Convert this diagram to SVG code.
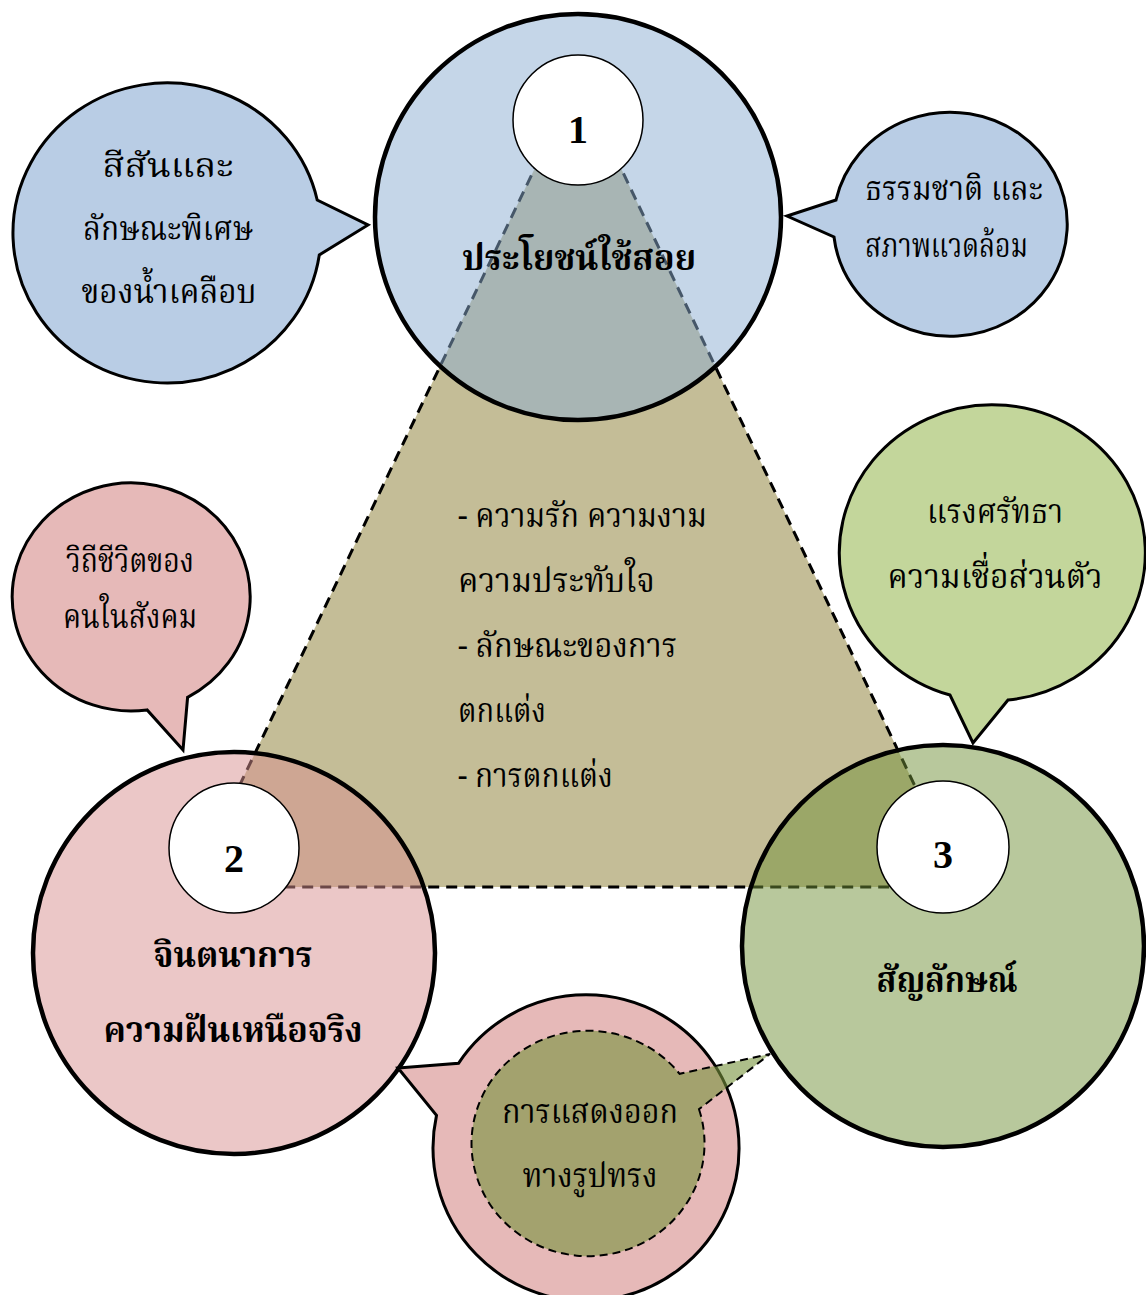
<svg xmlns="http://www.w3.org/2000/svg" width="1146" height="1295" viewBox="0 0 1146 1295">
<style>
.big{stroke:#000;stroke-width:4.5}
.bub{stroke:#000;stroke-width:3;stroke-linejoin:miter}
.num{fill:#fff;stroke:#000;stroke-width:1.5}
.th{font-family:"Noto Serif Thai","Noto Sans Thai","Tlwg Typo","Garuda","Loma","Liberation Serif",serif;font-size:34px;fill:#000}
.thb{font-family:"Noto Serif Thai","Noto Sans Thai","Tlwg Typo","Garuda","Loma","Liberation Serif",serif;font-size:36px;font-weight:bold;fill:#000}
.n{font-family:"Liberation Serif","Times New Roman",serif;font-size:40px;font-weight:bold;fill:#000;text-anchor:middle}
.c{text-anchor:middle}
</style>
<rect width="1146" height="1295" fill="#fff"/>
<g id="connectors">
<polygon points="578,78 191,887 963,887" fill="#c4bd97" stroke="#000" stroke-width="3" stroke-dasharray="11,7"/>
</g>
<g id="node-1">
<circle cx="578" cy="217" r="203" fill="#8cadd2" fill-opacity="0.5" class="big"/>
</g>
<g id="node-2">
<circle cx="234" cy="953" r="201" fill="#d78f8f" fill-opacity="0.5" class="big"/>
</g>
<g id="node-3">
<circle cx="943" cy="946" r="201" fill="#719139" fill-opacity="0.5" class="big"/>
</g>
<g id="bubble-glaze">
<path d="M 319.3 254.9 A 154 150 0 1 1 317.2 200 L 368 225 Z" fill="#b9cde5" class="bub"/>
<text class="th c" x="168" y="177" textLength="131" lengthAdjust="spacingAndGlyphs">สีสันและ</text>
<text class="th c" x="168" y="240" textLength="170" lengthAdjust="spacingAndGlyphs">ลักษณะพิเศษ</text>
<text class="th c" x="169" y="303" textLength="175" lengthAdjust="spacingAndGlyphs">ของน้ำเคลือบ</text>
</g>
<g id="bubble-nature">
<path d="M 836 200 A 117 112 0 1 1 834 237 L 787 216 Z" fill="#b9cde5" class="bub"/>
<text class="th" x="865" y="200" textLength="178" lengthAdjust="spacingAndGlyphs">ธรรมชาติ และ</text>
<text class="th" x="865" y="257" textLength="163" lengthAdjust="spacingAndGlyphs">สภาพแวดล้อม</text>
</g>
<g id="bubble-lifestyle">
<path d="M 147.1 709.9 A 119 114 0 1 1 187.6 697.3 L 183 750 Z" fill="#e6b9b8" class="bub"/>
<text class="th c" x="130" y="572" textLength="128" lengthAdjust="spacingAndGlyphs">วิถีชีวิตของ</text>
<text class="th c" x="130" y="628" textLength="134" lengthAdjust="spacingAndGlyphs">คนในสังคม</text>
</g>
<g id="bubble-faith">
<path d="M 950 695 A 153 148 0 1 1 1008 700 L 973 743 Z" fill="#c3d69b" class="bub"/>
<text class="th c" x="995" y="523" textLength="136" lengthAdjust="spacingAndGlyphs">แรงศรัทธา</text>
<text class="th c" x="995" y="588" textLength="215" lengthAdjust="spacingAndGlyphs">ความเชื่อส่วนตัว</text>
</g>
<g id="bubble-form">
<path d="M 458.5 1063.3 A 153 153 0 1 1 436.5 1115.4 L 398 1068 Z" fill="#e6b9b8" class="bub"/>
<path d="M 699 1109.2 A 116.5 112.7 0 1 1 679.6 1073.8 L 770 1054 Z" fill="#76923c" fill-opacity="0.6" stroke="#000" stroke-width="2" stroke-dasharray="8,5"/>
<text class="th c" x="590" y="1123" textLength="176" lengthAdjust="spacingAndGlyphs">การแสดงออก</text>
<text class="th c" x="590" y="1187" textLength="135" lengthAdjust="spacingAndGlyphs">ทางรูปทรง</text>
</g>
<g id="center-text">
<text class="th" x="458" y="527" textLength="249" lengthAdjust="spacingAndGlyphs">- ความรัก ความงาม</text>
<text class="th" x="458" y="592" textLength="197" lengthAdjust="spacingAndGlyphs">ความประทับใจ</text>
<text class="th" x="458" y="657" textLength="219" lengthAdjust="spacingAndGlyphs">- ลักษณะของการ</text>
<text class="th" x="458" y="722" textLength="88" lengthAdjust="spacingAndGlyphs">ตกแต่ง</text>
<text class="th" x="458" y="787" textLength="155" lengthAdjust="spacingAndGlyphs">- การตกแต่ง</text>
</g>
<g id="label-1">
<circle cx="578" cy="120" r="65" class="num"/>
<text class="n" x="578" y="143">1</text>
<text class="thb c" x="579" y="270" textLength="234" lengthAdjust="spacingAndGlyphs">ประโยชน์ใช้สอย</text>
</g>
<g id="label-2">
<circle cx="234" cy="848" r="65" class="num"/>
<text class="n" x="234" y="872">2</text>
<text class="thb c" x="233" y="967" textLength="159" lengthAdjust="spacingAndGlyphs">จินตนาการ</text>
<text class="thb c" x="233" y="1042" textLength="259" lengthAdjust="spacingAndGlyphs">ความฝันเหนือจริง</text>
</g>
<g id="label-3">
<circle cx="943" cy="847" r="66" class="num"/>
<text class="n" x="943" y="868">3</text>
<text class="thb c" x="947" y="992" textLength="141" lengthAdjust="spacingAndGlyphs">สัญลักษณ์</text>
</g>
</svg>
